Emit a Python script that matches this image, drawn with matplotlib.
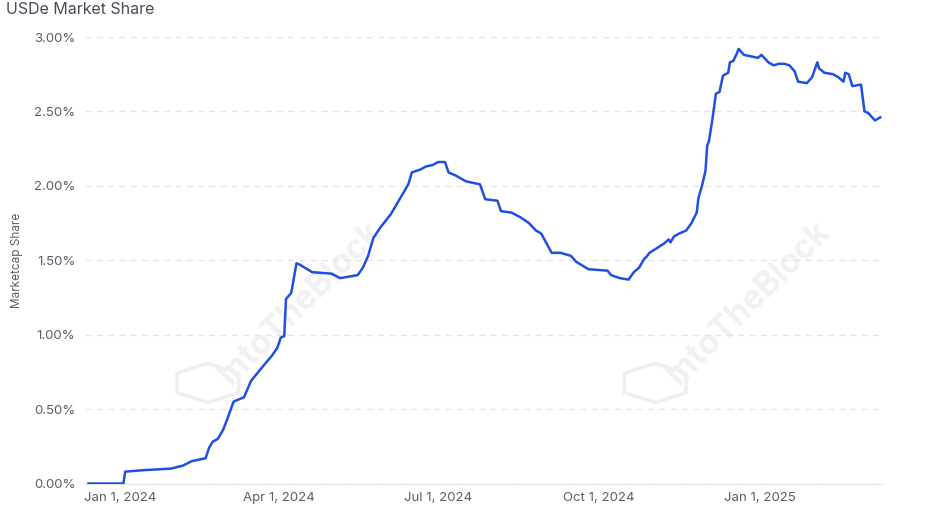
import matplotlib
matplotlib.use("Agg")
import matplotlib.pyplot as plt
import matplotlib.dates as mdates
from matplotlib.patches import RegularPolygon
import pandas as pd

# values (USDe share of stablecoin market cap, %)
dates = [
    "2023-12-14", "2024-01-03", "2024-01-04", "2024-01-15", "2024-01-30", "2024-02-06",
    "2024-02-11", "2024-02-19", "2024-02-21", "2024-02-23", "2024-02-26", "2024-02-29",
    "2024-03-02", "2024-03-06", "2024-03-12", "2024-03-16", "2024-03-23", "2024-03-28",
    "2024-03-31", "2024-04-02", "2024-04-04", "2024-04-05", "2024-04-08", "2024-04-11",
    "2024-04-13", "2024-04-20", "2024-05-01", "2024-05-06", "2024-05-16", "2024-05-19",
    "2024-05-22", "2024-05-25", "2024-05-29", "2024-06-04", "2024-06-09", "2024-06-14",
    "2024-06-16", "2024-06-21", "2024-06-24", "2024-06-28", "2024-07-01", "2024-07-05",
    "2024-07-07", "2024-07-11", "2024-07-17", "2024-07-25", "2024-07-28", "2024-08-04",
    "2024-08-06", "2024-08-12", "2024-08-17", "2024-08-22", "2024-08-26", "2024-08-29",
    "2024-09-04", "2024-09-09", "2024-09-15", "2024-09-18", "2024-09-25", "2024-10-06",
    "2024-10-08", "2024-10-13", "2024-10-18", "2024-10-21", "2024-10-24", "2024-10-27",
    "2024-10-28", "2024-10-30", "2024-11-03", "2024-11-07", "2024-11-10", "2024-11-11",
    "2024-11-13", "2024-11-16", "2024-11-20", "2024-11-23", "2024-11-26", "2024-11-27",
    "2024-11-29", "2024-12-01", "2024-12-02", "2024-12-03", "2024-12-05", "2024-12-07",
    "2024-12-09", "2024-12-11", "2024-12-14", "2024-12-15", "2024-12-17", "2024-12-19",
    "2024-12-20", "2024-12-23", "2024-12-27", "2024-12-31", "2025-01-02", "2025-01-06",
    "2025-01-09", "2025-01-12", "2025-01-15", "2025-01-18", "2025-01-21", "2025-01-23",
    "2025-01-28", "2025-01-31", "2025-02-03", "2025-02-04", "2025-02-07", "2025-02-12",
    "2025-02-15", "2025-02-18", "2025-02-19", "2025-02-21", "2025-02-23", "2025-02-28",
    "2025-03-02", "2025-03-04", "2025-03-08", "2025-03-11",
]
share = [
    0.00, 0.00, 0.08, 0.09, 0.10, 0.12,
    0.15, 0.17, 0.24, 0.28, 0.30, 0.36,
    0.42, 0.55, 0.58, 0.69, 0.79, 0.86,
    0.91, 0.98, 0.99, 1.24, 1.28, 1.48,
    1.47, 1.42, 1.41, 1.38, 1.40, 1.45,
    1.53, 1.65, 1.72, 1.81, 1.91, 2.01,
    2.09, 2.11, 2.13, 2.14, 2.16, 2.16,
    2.09, 2.07, 2.03, 2.01, 1.91, 1.90,
    1.83, 1.82, 1.79, 1.75, 1.70, 1.68,
    1.55, 1.55, 1.53, 1.49, 1.44, 1.43,
    1.40, 1.38, 1.37, 1.42, 1.45, 1.51,
    1.52, 1.55, 1.58, 1.61, 1.64, 1.62,
    1.66, 1.68, 1.70, 1.75, 1.82, 1.92,
    2.00, 2.10, 2.27, 2.30, 2.45, 2.62,
    2.63, 2.74, 2.76, 2.83, 2.84, 2.89,
    2.92, 2.88, 2.87, 2.86, 2.88, 2.83,
    2.81, 2.82, 2.82, 2.81, 2.77, 2.70,
    2.69, 2.73, 2.83, 2.79, 2.76, 2.75,
    2.73, 2.70, 2.76, 2.75, 2.67, 2.68,
    2.50, 2.49, 2.44, 2.46,
]
tick_dates = ["2024-01-01", "2024-04-01", "2024-07-01", "2024-10-01", "2025-01-01"]
y_ticks = [0.0, 0.5, 1.0, 1.5, 2.0, 2.5, 3.0]

plt.rcParams["font.family"] = ["Inter", "DejaVu Sans"]

x = pd.to_datetime(dates)
label_color = "#5c5c6b"

fig = plt.figure(figsize=(9.36, 5.14), dpi=100)
ax = fig.add_axes([0.0908, 0.0593, 0.8515, 0.8687])

# watermarks, kept under the line
for cx, lx in [(0.322, 0.222), (0.800, 0.700)]:
    ax.text(cx, 0.41, "IntoTheBlock", rotation=45, ha="center", va="center",
            fontsize=24, fontweight="bold", color="#f1f1f4", zorder=0,
            transform=fig.transFigure)
    ax.add_patch(RegularPolygon((lx, 0.255), 6, radius=0.038,
                                transform=fig.transFigure, fill=False,
                                ec="#efeff2", lw=2.5, zorder=0, clip_on=False))

ax.plot(x, share, color="#1f4fe3", lw=1.8, zorder=3)

ax.set_xlim(pd.Timestamp("2023-12-12"), pd.Timestamp("2025-03-12"))
ax.set_ylim(0, 3.0)
ax.set_yticks(y_ticks)
ax.set_yticklabels([f"{v:.2f}%" for v in y_ticks])
ax.set_xticks(pd.to_datetime(tick_dates))
ax.xaxis.set_major_formatter(mdates.DateFormatter("%b %-d, %Y"))

ax.grid(axis="y", color="#e4e4e8", linestyle=(0, (5, 4)), lw=0.9, zorder=1)
ax.set_axisbelow(True)
ax.set_facecolor("none")
for s in ["top", "right", "left"]:
    ax.spines[s].set_visible(False)
ax.spines["bottom"].set_color("#e4e4e8")
ax.tick_params(length=0, labelsize=9.5, labelcolor=label_color)
ax.tick_params(axis="y", pad=7)
ax.tick_params(axis="x", pad=6)

ax.set_ylabel("Marketcap Share", fontsize=8.5, color=label_color, labelpad=8)
fig.text(0.006, 0.981, "USDe Market Share", fontsize=11.5, color="#4a4a5a",
         ha="left", va="center")

fig.savefig("out.png", dpi=100)
